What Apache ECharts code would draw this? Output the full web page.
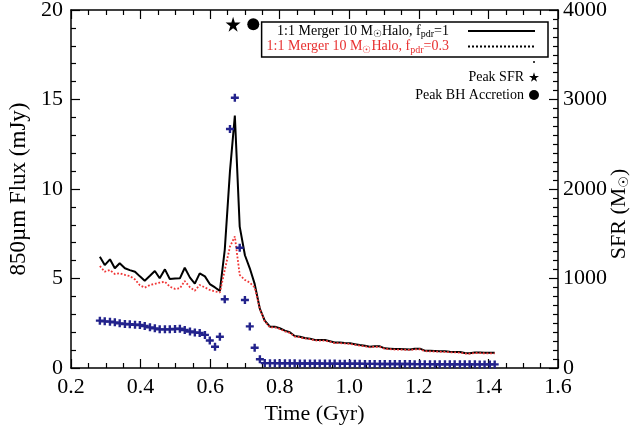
<!DOCTYPE html>
<html>
<head>
<meta charset="utf-8">
<script src="https://cdn.jsdelivr.net/npm/echarts@6/dist/echarts.min.js"></script>
<style>
  html, body { margin: 0; padding: 0; background: #fff; }
  #chart { width: 632px; height: 426px; }
</style>
</head>
<body>
<div id="chart"></div>
<script>
// Snapshot times (Gyr)
const times = [
  0.283, 0.297, 0.312, 0.326, 0.340, 0.355, 0.369, 0.384, 0.398, 0.412,
  0.427, 0.441, 0.455, 0.470, 0.484, 0.499, 0.513, 0.527, 0.542, 0.556,
  0.570, 0.585, 0.599, 0.614, 0.628, 0.642, 0.657, 0.671, 0.685, 0.700,
  0.714, 0.728, 0.743, 0.757, 0.772, 0.786, 0.800, 0.815, 0.829, 0.843,
  0.858, 0.872, 0.887, 0.901, 0.915, 0.930, 0.944, 0.958, 0.973, 0.987,
  1.002, 1.016, 1.030, 1.045, 1.059, 1.073, 1.088, 1.102, 1.117, 1.131,
  1.145, 1.160, 1.174, 1.188, 1.203, 1.217, 1.232, 1.246, 1.260, 1.275,
  1.289, 1.303, 1.318, 1.332, 1.346, 1.361, 1.375, 1.389, 1.404, 1.418
];

// 850um flux (mJy), f_pdr = 1
const fluxFpdr1 = [
  6.22, 5.75, 6.07, 5.57, 5.85, 5.57, 5.47, 5.38, 5.12, 4.88,
  5.15, 5.42, 5.01, 5.51, 4.97, 5.00, 5.01, 5.60, 5.05, 4.71,
  5.29, 5.12, 4.69, 4.50, 4.31, 6.60, 11.0, 14.1, 7.90, 6.30,
  5.57, 4.70, 3.30, 2.65, 2.31, 2.31, 2.22, 2.09, 2.00, 1.79,
  1.75, 1.68, 1.64, 1.57, 1.56, 1.56, 1.50, 1.42, 1.42, 1.40,
  1.38, 1.33, 1.28, 1.24, 1.19, 1.22, 1.21, 1.10, 1.08, 1.06,
  1.06, 1.05, 1.04, 1.07, 1.08, 0.97, 0.96, 0.95, 0.94, 0.93,
  0.91, 0.90, 0.89, 0.84, 0.83, 0.87, 0.86, 0.85, 0.85, 0.85
];

// 850um flux (mJy), f_pdr = 0.3
const fluxFpdr03 = [
  5.70, 5.38, 5.47, 5.25, 5.29, 5.20, 5.14, 4.95, 4.62, 4.49,
  4.64, 4.70, 4.77, 4.82, 4.54, 4.42, 4.45, 4.86, 4.51, 4.32,
  4.64, 4.50, 4.36, 4.28, 4.22, 5.47, 6.78, 7.35, 5.20, 4.92,
  4.77, 4.50, 3.30, 2.60, 2.27, 2.27, 2.18, 2.05, 1.96, 1.76,
  1.72, 1.65, 1.61, 1.54, 1.53, 1.53, 1.47, 1.39, 1.39, 1.37,
  1.35, 1.30, 1.25, 1.21, 1.16, 1.19, 1.18, 1.07, 1.05, 1.03,
  1.03, 1.02, 1.01, 1.04, 1.05, 0.94, 0.93, 0.92, 0.91, 0.90,
  0.88, 0.87, 0.86, 0.81, 0.80, 0.84, 0.83, 0.82, 0.82, 0.82
];

// Star formation rate (Msun/yr)
const sfr = [
  529, 521, 518, 510, 499, 492, 488, 484, 480, 469,
  454, 443, 432, 432, 432, 436, 438, 425, 408, 398,
  392, 370, 308, 238, 350, 768, 2670, 3020, 1344, 760,
  465, 227, 97, 55, 54, 54, 53, 53, 52, 52,
  51, 51, 50, 50, 50, 49, 49, 49, 48, 48,
  47, 47, 47, 46, 46, 46, 45, 45, 45, 44,
  44, 44, 44, 43, 43, 43, 43, 42, 42, 42,
  42, 42, 41, 41, 41, 41, 40, 40, 40, 40
];

// Peak markers: [time (Gyr), height on flux axis]
const peakSfr = [0.666, 19.2];
const peakBh = [0.724, 19.2];

const FONT = 'Liberation Serif';
const STAR = 'path://M50,0 L61,35 L98,35 L68,57 L79,91 L50,70 L21,91 L32,57 L2,35 L39,35 Z';
const PLUS = 'path://M3.5,0 H6.5 V3.5 H10 V6.5 H6.5 V10 H3.5 V6.5 H0 V3.5 H3.5 Z';

const legendText = {
  fpdr1: '1:1 Merger 10 M{s|☉}Halo, f{s|pdr}=1{g|}',
  fpdr03: '1:1 Merger 10 M{s|☉}Halo, f{s|pdr}=0.3{g|}'
};

const axisLineStyle = { color: '#000', width: 1.5 };
const tickStyle = { color: '#000', width: 1.2 };

function xAxisBase(pos) {
  return {
    type: 'value', position: pos, min: 0.2, max: 1.6, interval: 0.2,
    axisLine: { show: true, onZero: false, lineStyle: axisLineStyle },
    axisTick: { show: true, inside: true, length: 9, lineStyle: tickStyle },
    minorTick: { show: true, splitNumber: 4, length: 5, lineStyle: tickStyle },
    splitLine: { show: false }
  };
}

const chart = echarts.init(document.getElementById('chart'), null, { renderer: 'canvas' });

chart.setOption({
  animation: false,
  backgroundColor: '#fff',
  grid: { left: 71, right: 74, top: 10, bottom: 58, containLabel: false, outerBoundsMode: 'none' },
  xAxis: [
    Object.assign(xAxisBase('bottom'), {
      name: 'Time (Gyr)', nameLocation: 'middle', nameGap: 30,
      nameTextStyle: { fontFamily: FONT, fontSize: 22, color: '#000' },
      axisLabel: {
        show: true, margin: 8, fontFamily: FONT, fontSize: 22, color: '#000',
        showMinLabel: true, showMaxLabel: true,
        formatter: v => v.toFixed(1)
      }
    }),
    Object.assign(xAxisBase('top'), { axisLabel: { show: false } })
  ],
  yAxis: [
    {
      type: 'value', position: 'left', min: 0, max: 20, interval: 5,
      name: '850µm Flux (mJy)', nameLocation: 'middle', nameGap: 38,
      nameTextStyle: { fontFamily: FONT, fontSize: 23, color: '#000' },
      axisLine: { show: true, onZero: false, lineStyle: axisLineStyle },
      axisTick: { show: true, inside: true, length: 9, lineStyle: tickStyle },
      minorTick: { show: true, splitNumber: 5, length: 5, lineStyle: tickStyle },
      splitLine: { show: false },
      axisLabel: { margin: 8, fontFamily: FONT, fontSize: 22, color: '#000', showMinLabel: true, showMaxLabel: true }
    },
    {
      type: 'value', position: 'right', min: 0, max: 4000, interval: 1000,
      name: 'SFR (M{s|☉})', nameLocation: 'middle', nameGap: 50, nameMoveOverlap: false,
      nameTextStyle: {
        fontFamily: FONT, fontSize: 22, color: '#000', padding: [0, 50, 0, 0],
        rich: { s: { fontFamily: 'DejaVu Sans', fontSize: 13, padding: [10, 0, 0, 0], color: '#000' } }
      },
      axisLine: { show: true, onZero: false, lineStyle: axisLineStyle },
      axisTick: { show: true, inside: true, length: 9, lineStyle: tickStyle },
      minorTick: { show: true, splitNumber: 10, length: 5, lineStyle: tickStyle },
      splitLine: { show: false },
      axisLabel: {
        margin: 5, fontFamily: FONT, fontSize: 22, color: '#000', showMinLabel: true, showMaxLabel: true,
        formatter: v => String(v)
      }
    }
  ],
  legend: [
    {
      orient: 'vertical', align: 'right', right: 84, top: 22,
      itemWidth: 67, itemHeight: 14, itemGap: 0,
      padding: [2, 12, 2, 5],
      borderColor: '#000', borderWidth: 1.5, borderRadius: 0,
      selectedMode: false,
      itemStyle: { color: 'rgba(0,0,0,0)', borderWidth: 0, opacity: 0 },
      formatter: name => legendText[name],
      textStyle: {
        fontFamily: FONT, fontSize: 14, color: '#000',
        rich: {
          s: { fontFamily: FONT, fontSize: 10, padding: [7, 0, 0, 0] },
          g: { width: 14 }
        }
      },
      data: [
        { name: 'fpdr1', textStyle: { color: '#000' } },
        { name: 'fpdr03', textStyle: { color: '#e83030' }, lineStyle: { color: '#000' } }
      ]
    },
    {
      orient: 'vertical', align: 'right', right: 93, top: 70,
      itemWidth: 10, itemHeight: 10, itemGap: 4, padding: 0,
      selectedMode: false,
      textStyle: { fontFamily: FONT, fontSize: 14, color: '#000' },
      data: [
        { name: 'Peak SFR', icon: STAR },
        { name: 'Peak BH Accretion', icon: 'circle' }
      ]
    }
  ],
  graphic: [
    { type: 'circle', shape: { cx: 534, cy: 62, r: 1 }, style: { fill: '#000' }, silent: true }
  ],
  series: [
    {
      name: 'fpdr1', type: 'line', xAxisIndex: 0, yAxisIndex: 0,
      data: times.map((t, i) => [t, fluxFpdr1[i]]),
      showSymbol: false, symbol: 'none',
      lineStyle: { color: '#000', width: 2 }, itemStyle: { color: '#000' },
      z: 2
    },
    {
      name: 'fpdr03', type: 'line', xAxisIndex: 0, yAxisIndex: 0,
      data: times.map((t, i) => [t, fluxFpdr03[i]]),
      showSymbol: false, symbol: 'none',
      lineStyle: { color: '#f03535', width: 1.8, type: 'dotted' }, itemStyle: { color: '#f03535' },
      z: 3
    },
    {
      name: 'SFR', type: 'scatter', xAxisIndex: 0, yAxisIndex: 1,
      data: times.map((t, i) => [t, sfr[i]]),
      symbol: PLUS, symbolSize: 8,
      itemStyle: { color: '#23238c', opacity: 1 },
      z: 4
    },
    {
      name: 'Peak SFR', type: 'scatter', xAxisIndex: 0, yAxisIndex: 0,
      data: [peakSfr], symbol: STAR, symbolSize: 15,
      itemStyle: { color: '#000', opacity: 1 }, z: 5
    },
    {
      name: 'Peak BH Accretion', type: 'scatter', xAxisIndex: 0, yAxisIndex: 0,
      data: [peakBh], symbol: 'circle', symbolSize: 12,
      itemStyle: { color: '#000', opacity: 1 }, z: 5
    }
  ]
});
</script>
</body>
</html>
